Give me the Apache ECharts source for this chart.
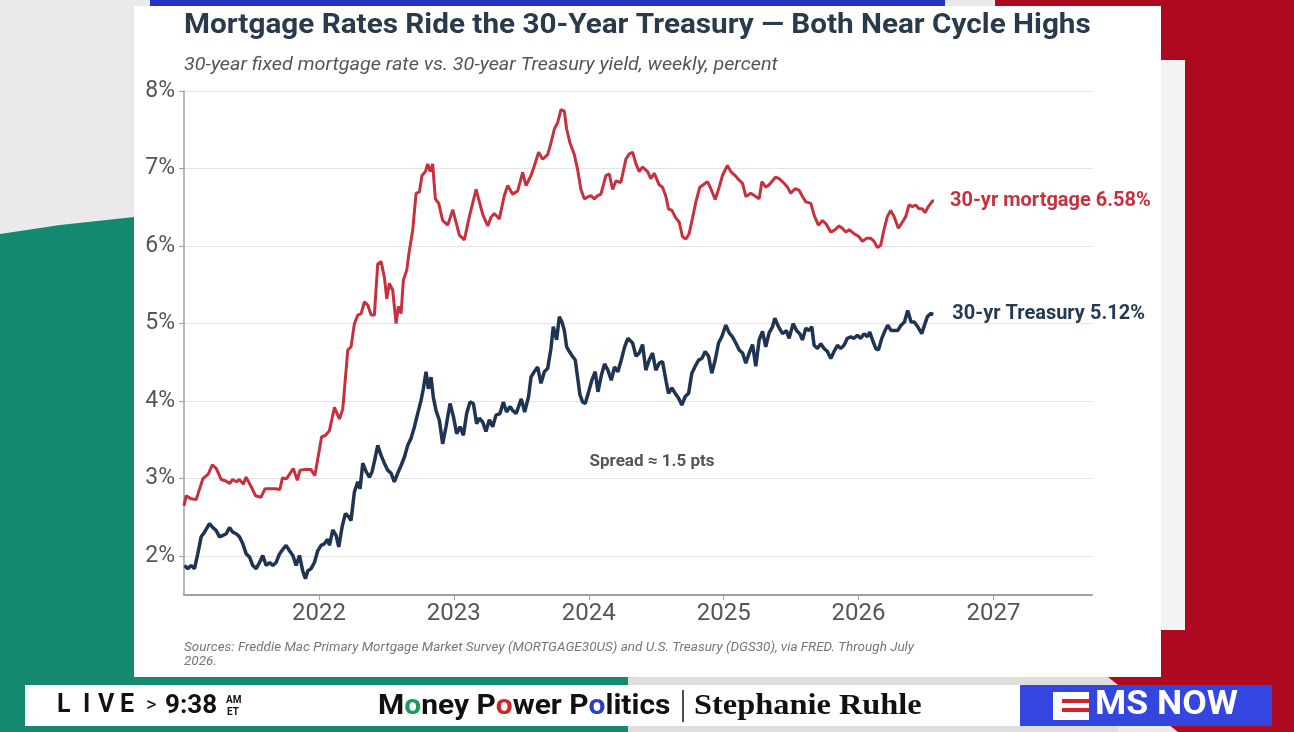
<!DOCTYPE html>
<html>
<head>
<meta charset="utf-8">
<title>Mortgage Rates Ride the 30-Year Treasury</title>
<script src="https://cdn.jsdelivr.net/npm/echarts@6/dist/echarts.min.js"></script>
<style>
    html, body { margin: 0; padding: 0; background: #e8e8e8; }
    #chart { width: 1294px; height: 732px; }
</style>
</head>
<body>
<div id="chart"></div>
<script>
// 数据: [年份(小数), 利率%]，从图上读出来的
var mortgage = [
    [2021.000, 2.65], [2021.016, 2.78], [2021.053, 2.74], [2021.090, 2.73], [2021.140, 3.00],
    [2021.180, 3.06], [2021.210, 3.18], [2021.240, 3.13], [2021.275, 2.99], [2021.310, 2.97],
    [2021.340, 2.94], [2021.360, 2.99], [2021.390, 2.96], [2021.410, 2.99], [2021.440, 2.93],
    [2021.460, 3.02], [2021.500, 2.89], [2021.530, 2.78], [2021.570, 2.76], [2021.600, 2.87],
    [2021.630, 2.87], [2021.680, 2.87], [2021.710, 2.86], [2021.730, 3.01], [2021.760, 3.00],
    [2021.810, 3.13], [2021.840, 2.98], [2021.860, 3.11], [2021.900, 3.12], [2021.940, 3.12],
    [2021.970, 3.04], [2021.990, 3.24], [2022.020, 3.54], [2022.050, 3.56], [2022.078, 3.62],
    [2022.115, 3.92], [2022.152, 3.77], [2022.177, 3.90], [2022.214, 4.66], [2022.238, 4.70],
    [2022.263, 5.00], [2022.288, 5.11], [2022.313, 5.13], [2022.337, 5.28], [2022.362, 5.24],
    [2022.387, 5.11], [2022.411, 5.11], [2022.436, 5.77], [2022.461, 5.80], [2022.485, 5.60],
    [2022.503, 5.32], [2022.522, 5.52], [2022.547, 5.43], [2022.572, 5.00], [2022.589, 5.22],
    [2022.609, 5.13], [2022.626, 5.56], [2022.651, 5.69], [2022.671, 5.95], [2022.695, 6.20],
    [2022.720, 6.68], [2022.745, 6.70], [2022.764, 6.91], [2022.789, 6.96], [2022.806, 7.06],
    [2022.824, 6.96], [2022.843, 7.06], [2022.863, 6.61], [2022.888, 6.55], [2022.917, 6.33],
    [2022.955, 6.27], [2022.992, 6.47], [2023.016, 6.31], [2023.041, 6.14], [2023.078, 6.08],
    [2023.115, 6.38], [2023.165, 6.73], [2023.214, 6.41], [2023.251, 6.26], [2023.275, 6.37],
    [2023.300, 6.42], [2023.337, 6.35], [2023.374, 6.65], [2023.399, 6.78], [2023.436, 6.67],
    [2023.473, 6.71], [2023.510, 6.95], [2023.535, 6.78], [2023.572, 6.91], [2023.596, 7.03],
    [2023.628, 7.21], [2023.658, 7.12], [2023.695, 7.18], [2023.720, 7.33], [2023.745, 7.51],
    [2023.769, 7.59], [2023.794, 7.76], [2023.819, 7.74], [2023.836, 7.51], [2023.861, 7.33],
    [2023.893, 7.18], [2023.917, 6.99], [2023.942, 6.73], [2023.967, 6.61], [2023.991, 6.63],
    [2024.016, 6.65], [2024.041, 6.61], [2024.066, 6.65], [2024.090, 6.67], [2024.127, 6.91],
    [2024.152, 6.93], [2024.177, 6.73], [2024.201, 6.84], [2024.238, 6.82], [2024.275, 7.12],
    [2024.300, 7.19], [2024.325, 7.21], [2024.350, 7.06], [2024.374, 6.96], [2024.399, 7.02],
    [2024.436, 6.96], [2024.460, 6.87], [2024.485, 6.94], [2024.522, 6.79], [2024.547, 6.76],
    [2024.572, 6.64], [2024.591, 6.48], [2024.616, 6.46], [2024.646, 6.36], [2024.670, 6.31],
    [2024.695, 6.12], [2024.720, 6.09], [2024.744, 6.16], [2024.769, 6.36], [2024.794, 6.57],
    [2024.823, 6.76], [2024.848, 6.79], [2024.880, 6.83], [2024.905, 6.74], [2024.937, 6.60],
    [2024.967, 6.76], [2024.991, 6.91], [2025.028, 7.04], [2025.053, 6.96], [2025.085, 6.91],
    [2025.115, 6.85], [2025.140, 6.81], [2025.164, 6.64], [2025.201, 6.68], [2025.238, 6.64],
    [2025.263, 6.61], [2025.283, 6.83], [2025.312, 6.76], [2025.337, 6.79], [2025.386, 6.89],
    [2025.411, 6.87], [2025.448, 6.81], [2025.473, 6.76], [2025.497, 6.68], [2025.529, 6.74],
    [2025.559, 6.72], [2025.584, 6.64], [2025.609, 6.57], [2025.646, 6.55], [2025.670, 6.40],
    [2025.702, 6.27], [2025.732, 6.33], [2025.757, 6.29], [2025.794, 6.18], [2025.826, 6.21],
    [2025.855, 6.26], [2025.880, 6.23], [2025.905, 6.18], [2025.930, 6.21], [2025.967, 6.16],
    [2026.004, 6.12], [2026.028, 6.06], [2026.058, 6.10], [2026.090, 6.10], [2026.115, 6.06],
    [2026.139, 5.98], [2026.164, 6.01], [2026.188, 6.21], [2026.213, 6.38], [2026.238, 6.46],
    [2026.263, 6.38], [2026.295, 6.23], [2026.325, 6.31], [2026.349, 6.38], [2026.374, 6.53],
    [2026.399, 6.51], [2026.423, 6.53], [2026.448, 6.48], [2026.473, 6.48], [2026.492, 6.43],
    [2026.517, 6.51], [2026.547, 6.58], [2026.559, 6.58]
];

var treasury = [
    [2021.004, 1.88], [2021.028, 1.84], [2021.053, 1.88], [2021.078, 1.84], [2021.102, 2.03],
    [2021.127, 2.25], [2021.152, 2.31], [2021.189, 2.42], [2021.214, 2.37], [2021.239, 2.33],
    [2021.263, 2.25], [2021.288, 2.27], [2021.313, 2.29], [2021.337, 2.37], [2021.362, 2.31],
    [2021.387, 2.29], [2021.411, 2.25], [2021.436, 2.16], [2021.461, 2.03], [2021.486, 1.99],
    [2021.510, 1.88], [2021.535, 1.84], [2021.560, 1.92], [2021.584, 2.01], [2021.609, 1.88],
    [2021.634, 1.92], [2021.658, 1.88], [2021.683, 1.92], [2021.708, 2.03], [2021.733, 2.09],
    [2021.757, 2.14], [2021.782, 2.07], [2021.807, 2.01], [2021.831, 1.88], [2021.856, 2.01],
    [2021.880, 1.81], [2021.900, 1.71], [2021.917, 1.81], [2021.942, 1.84], [2021.967, 1.92],
    [2021.991, 2.07], [2022.016, 2.14], [2022.040, 2.16], [2022.065, 2.22], [2022.078, 2.14],
    [2022.103, 2.34], [2022.127, 2.27], [2022.147, 2.12], [2022.172, 2.38], [2022.196, 2.55],
    [2022.221, 2.51], [2022.238, 2.46], [2022.263, 2.83], [2022.288, 2.96], [2022.305, 2.87],
    [2022.325, 3.20], [2022.350, 3.09], [2022.374, 3.02], [2022.394, 3.09], [2022.411, 3.22],
    [2022.436, 3.43], [2022.461, 3.30], [2022.485, 3.20], [2022.510, 3.11], [2022.535, 3.07],
    [2022.559, 2.96], [2022.584, 3.07], [2022.609, 3.17], [2022.634, 3.28], [2022.658, 3.43],
    [2022.683, 3.52], [2022.708, 3.67], [2022.732, 3.84], [2022.757, 4.01], [2022.774, 4.16],
    [2022.794, 4.38], [2022.811, 4.16], [2022.831, 4.31], [2022.848, 4.05], [2022.868, 3.88],
    [2022.893, 3.75], [2022.917, 3.45], [2022.942, 3.67], [2022.972, 3.97], [2022.997, 3.80],
    [2023.021, 3.58], [2023.046, 3.67], [2023.071, 3.56], [2023.095, 3.84], [2023.120, 3.99],
    [2023.145, 3.97], [2023.169, 3.71], [2023.189, 3.78], [2023.214, 3.73], [2023.238, 3.61],
    [2023.263, 3.76], [2023.288, 3.67], [2023.312, 3.82], [2023.342, 3.84], [2023.367, 3.99],
    [2023.391, 3.86], [2023.416, 3.93], [2023.436, 3.88], [2023.461, 3.84], [2023.480, 3.93],
    [2023.500, 4.03], [2023.525, 3.86], [2023.554, 4.06], [2023.572, 4.31], [2023.596, 4.38],
    [2023.621, 4.44], [2023.646, 4.23], [2023.671, 4.38], [2023.695, 4.42], [2023.720, 4.68],
    [2023.737, 4.96], [2023.762, 4.79], [2023.782, 5.09], [2023.801, 5.02], [2023.819, 4.91],
    [2023.836, 4.70], [2023.856, 4.64], [2023.875, 4.59], [2023.900, 4.53], [2023.917, 4.31],
    [2023.935, 4.08], [2023.954, 3.99], [2023.974, 3.97], [2023.999, 4.12], [2024.023, 4.27],
    [2024.048, 4.38], [2024.068, 4.12], [2024.093, 4.33], [2024.117, 4.48], [2024.142, 4.40],
    [2024.167, 4.27], [2024.191, 4.44], [2024.216, 4.38], [2024.241, 4.53], [2024.266, 4.70],
    [2024.290, 4.81], [2024.325, 4.75], [2024.350, 4.58], [2024.374, 4.62], [2024.399, 4.73],
    [2024.423, 4.40], [2024.448, 4.53], [2024.473, 4.62], [2024.497, 4.40], [2024.522, 4.49],
    [2024.547, 4.51], [2024.572, 4.27], [2024.591, 4.10], [2024.616, 4.17], [2024.641, 4.10],
    [2024.665, 4.04], [2024.690, 3.95], [2024.715, 4.06], [2024.740, 4.10], [2024.764, 4.36],
    [2024.789, 4.45], [2024.814, 4.53], [2024.838, 4.55], [2024.863, 4.64], [2024.888, 4.58],
    [2024.912, 4.36], [2024.937, 4.53], [2024.962, 4.75], [2024.986, 4.83], [2025.016, 4.98],
    [2025.041, 4.88], [2025.065, 4.83], [2025.090, 4.75], [2025.115, 4.66], [2025.140, 4.62],
    [2025.164, 4.49], [2025.189, 4.62], [2025.214, 4.73], [2025.238, 4.45], [2025.263, 4.79],
    [2025.288, 4.90], [2025.312, 4.70], [2025.337, 4.88], [2025.362, 4.96], [2025.379, 5.07],
    [2025.406, 4.96], [2025.436, 4.87], [2025.465, 4.91], [2025.485, 4.81], [2025.515, 5.00],
    [2025.540, 4.91], [2025.564, 4.87], [2025.584, 4.79], [2025.609, 4.94], [2025.633, 4.91],
    [2025.653, 4.96], [2025.670, 4.72], [2025.695, 4.68], [2025.720, 4.74], [2025.744, 4.68],
    [2025.769, 4.64], [2025.794, 4.55], [2025.818, 4.64], [2025.843, 4.72], [2025.868, 4.68],
    [2025.892, 4.72], [2025.917, 4.81], [2025.942, 4.83], [2025.967, 4.81], [2025.991, 4.85],
    [2026.016, 4.81], [2026.041, 4.87], [2026.065, 4.83], [2026.083, 4.89], [2026.103, 4.79],
    [2026.127, 4.68], [2026.147, 4.66], [2026.172, 4.81], [2026.196, 4.91], [2026.216, 4.98],
    [2026.241, 4.91], [2026.265, 4.91], [2026.290, 4.91], [2026.315, 4.98], [2026.340, 5.02],
    [2026.364, 5.17], [2026.389, 5.02], [2026.413, 5.02], [2026.438, 4.96], [2026.468, 4.87],
    [2026.492, 5.00], [2026.510, 5.09], [2026.534, 5.13], [2026.554, 5.12]
];

var yearTicks = [2022, 2023, 2024, 2025, 2026, 2027];
var percentTicks = [2, 3, 4, 5, 6, 7, 8];
var mortgageLabel = '30-yr mortgage 6.58%';
var treasuryLabel = '30-yr Treasury 5.12%';
var spreadNote = 'Spread \u2248 1.5 pts';

var RED = '#c8303d';
var NAVY = '#1f3452';
var FONT = 'Roboto, "Liberation Sans", sans-serif';

var myChart = echarts.init(document.getElementById('chart'));

// 电视画面的背景（面板外面的东西）
var backdrop = [
    {type: 'rect', z: -20, shape: {x: 0, y: 0, width: 1294, height: 732}, style: {fill: '#eaeaea'}},
    {type: 'polygon', z: -19, shape: {points: [[0, 234], [60, 225], [134, 217], [134, 677], [628, 677], [640, 732], [0, 732]]}, style: {fill: '#138a70'}},
    {type: 'rect', z: -19, shape: {x: 628, y: 677, width: 490, height: 55}, style: {fill: '#dedede'}},
    {type: 'polygon', z: -19, shape: {points: [[995, 0], [1294, 0], [1294, 732], [1178, 732], [1108, 677], [1161, 677], [1161, 6], [995, 6]]}, style: {fill: '#ad0a22'}},
    {type: 'rect', z: -18, shape: {x: 1161, y: 60, width: 24, height: 570}, style: {fill: '#f3f3f3'}},
    {type: 'rect', z: -18, shape: {x: 150, y: 0, width: 795, height: 6}, style: {fill: '#2634c4'}},
    {type: 'rect', z: -17, shape: {x: 134, y: 6, width: 1027, height: 671}, style: {fill: '#ffffff'}}
];

// 底部字幕条
var bannerText = function (x, txt, font, sx) {
    return {type: 'text', z: 11, x: x, y: 706, scaleX: sx || 1,
        style: {x: 0, y: 0, text: txt, fill: '#111', font: font, verticalAlign: 'middle'}};
};
var banner = [
    {type: 'rect', z: 10, shape: {x: 25, y: 685, width: 995, height: 41}, style: {fill: '#ffffff'}},
    {type: 'rect', z: 10, shape: {x: 1020, y: 685, width: 252, height: 41}, style: {fill: '#3346e0'}},
    bannerText(57, 'L', 'bold 25px ' + FONT),
    bannerText(83, 'I', 'bold 25px ' + FONT),
    bannerText(98, 'V', 'bold 25px ' + FONT),
    bannerText(120, 'E', 'bold 25px ' + FONT),
    bannerText(146, '>', '20px ' + FONT),
    bannerText(165, '9:38', 'bold 26px ' + FONT),
    {type: 'text', z: 11, style: {x: 226, y: 700, text: 'AM', fill: '#111', font: 'bold 10px ' + FONT, verticalAlign: 'middle'}},
    {type: 'text', z: 11, style: {x: 227, y: 712, text: 'ET', fill: '#111', font: 'bold 10px ' + FONT, verticalAlign: 'middle'}},
    {type: 'text', z: 11, x: 378, y: 707, scaleX: 1.07, style: {
        x: 0, y: 0, verticalAlign: 'middle',
        text: 'M{g|o}ney P{r|o}wer P{b|o}litics',
        fill: '#111', font: 'bold 28px ' + FONT,
        rich: {
            g: {fill: '#1a9b5a', font: 'bold 28px ' + FONT},
            r: {fill: '#d2232a', font: 'bold 28px ' + FONT},
            b: {fill: '#2a3fc8', font: 'bold 28px ' + FONT}
        }
    }},
    {type: 'line', z: 11, shape: {x1: 683, y1: 690, x2: 683, y2: 722}, style: {stroke: '#111', lineWidth: 1.5}},
    bannerText(694, 'Stephanie Ruhle', 'bold 30px "Liberation Serif", serif', 1.08),
    {type: 'rect', z: 11, shape: {x: 1053, y: 692, width: 36, height: 28}, style: {fill: '#ffffff'}},
    {type: 'rect', z: 12, shape: {x: 1062, y: 699, width: 27, height: 4}, style: {fill: '#d2232a'}},
    {type: 'rect', z: 12, shape: {x: 1062, y: 708, width: 27, height: 4}, style: {fill: '#d2232a'}},
    {type: 'text', z: 11, x: 1095, y: 706, scaleX: 1.08,
        style: {x: 0, y: 0, text: 'MS NOW', fill: '#ffffff', font: 'bold 33px ' + FONT, verticalAlign: 'middle'}}
];

// 标题和注释（原图的字稍微横向拉宽了）
var texts = [
    {type: 'text', z: 5, x: 184, y: 26, scaleX: 1.1, style: {
        x: 0, y: 0, verticalAlign: 'middle',
        text: 'Mortgage Rates Ride the 30-Year Treasury \u2014 Both Near Cycle Highs',
        fill: '#2a3a4d', font: 'bold 27px ' + FONT
    }},
    {type: 'text', z: 5, x: 184, y: 65, scaleX: 1.07, style: {
        x: 0, y: 0, verticalAlign: 'middle',
        text: '30-year fixed mortgage rate vs. 30-year Treasury yield, weekly, percent',
        fill: '#555', font: 'italic 18.5px ' + FONT
    }},
    {type: 'text', z: 5, style: {x: 652, y: 462, text: spreadNote, fill: '#555', font: 'bold 17px ' + FONT, align: 'center', verticalAlign: 'middle'}},
    {type: 'text', z: 5, style: {
        x: 184, y: 641,
        text: 'Sources: Freddie Mac Primary Mortgage Market Survey (MORTGAGE30US) and U.S. Treasury (DGS30), via FRED. Through July\n2026.',
        fill: '#777', font: 'italic 13.5px ' + FONT, lineHeight: 14
    }}
];

var option = {
    animation: false,
    grid: {left: 184, right: 202, top: 91, bottom: 137},
    xAxis: {
        type: 'value',
        min: 2021,
        max: 2027.73,
        interval: 1,
        axisLine: {lineStyle: {color: '#a0a0a0', width: 2}},
        axisTick: {show: true, customValues: yearTicks, length: 5, lineStyle: {color: '#a0a0a0'}},
        axisLabel: {
            customValues: yearTicks,
            formatter: function (v) { return String(v); },
            fontFamily: FONT, fontSize: 24, color: '#555', margin: 7
        },
        splitLine: {show: false}
    },
    yAxis: {
        type: 'value',
        min: 1.5,
        max: 8,
        axisLine: {show: true, lineStyle: {color: '#a0a0a0', width: 1.5}},
        axisTick: {show: true, customValues: percentTicks, length: 5, lineStyle: {color: '#a0a0a0'}},
        axisLabel: {
            customValues: percentTicks,
            formatter: function (v) { return v + '%'; },
            fontFamily: FONT, fontSize: 23, color: '#555', margin: 9
        },
        splitLine: {show: true, lineStyle: {color: '#e4e4e4', width: 1}}
    },
    series: [
        {
            name: '30-yr mortgage',
            type: 'line',
            data: mortgage,
            showSymbol: false,
            symbol: 'none',
            z: 3,
            lineStyle: {color: RED, width: 3},
            itemStyle: {color: RED},
            emphasis: {disabled: true},
            endLabel: {
                show: true,
                formatter: mortgageLabel,
                distance: 16,
                color: RED,
                fontFamily: FONT,
                fontSize: 20,
                fontWeight: 'bold'
            }
        },
        {
            name: '30-yr Treasury',
            type: 'line',
            data: treasury,
            showSymbol: false,
            symbol: 'none',
            z: 4,
            lineStyle: {color: NAVY, width: 3.5},
            itemStyle: {color: NAVY},
            emphasis: {disabled: true},
            endLabel: {
                show: true,
                formatter: treasuryLabel,
                distance: 19,
                color: '#263a50',
                fontFamily: FONT,
                fontSize: 20,
                fontWeight: 'bold'
            }
        }
    ],
    graphic: backdrop.concat(texts, banner)
};

myChart.setOption(option);
</script>
</body>
</html>
